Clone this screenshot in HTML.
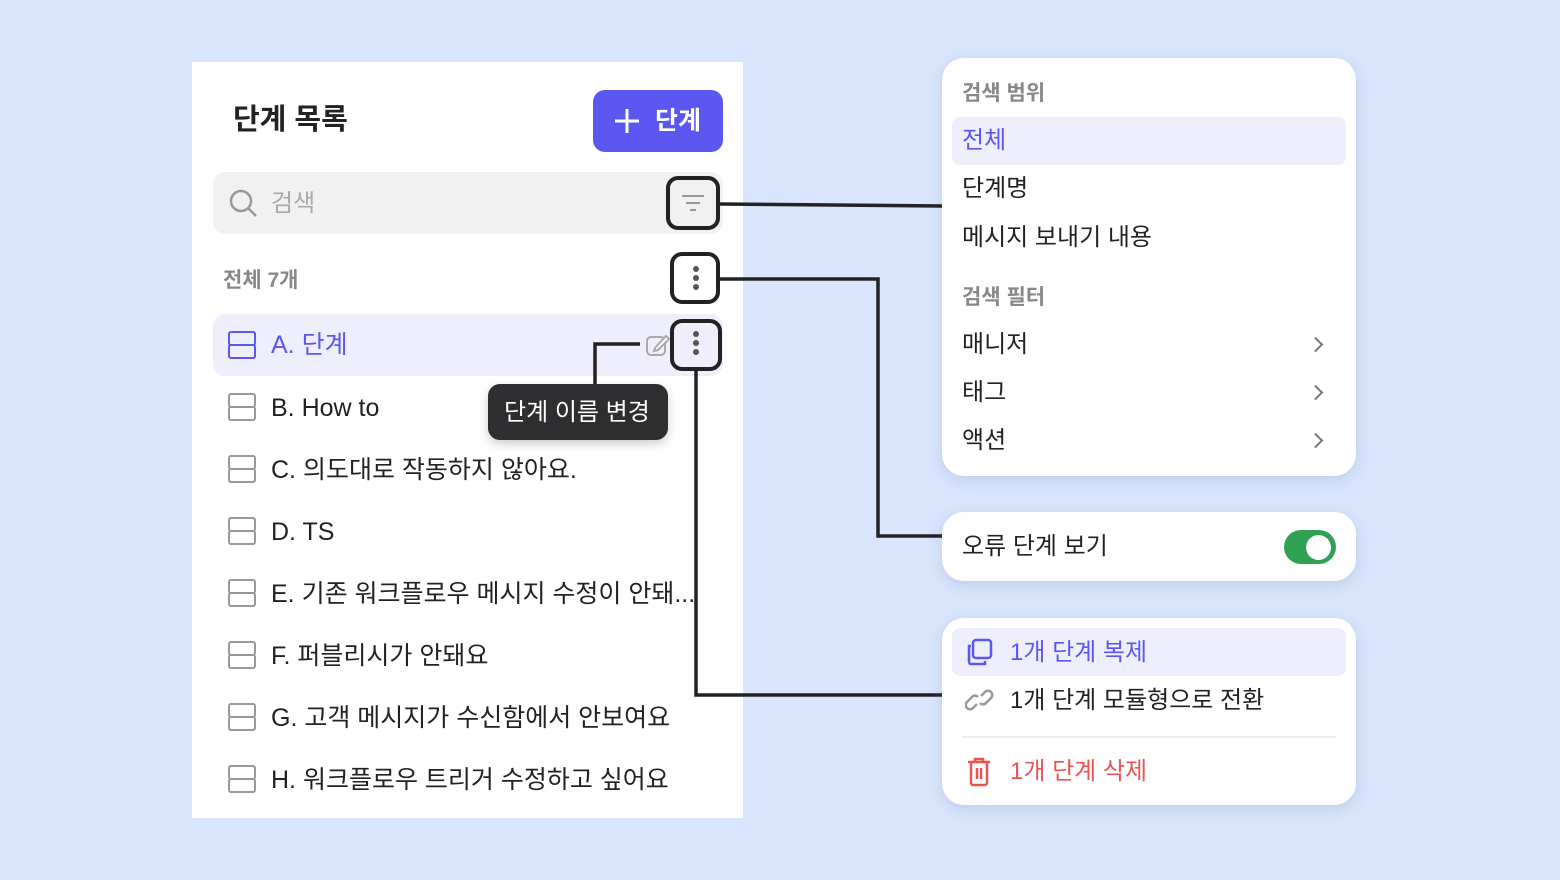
<!DOCTYPE html><html><head><meta charset="utf-8"><style>
*{margin:0;padding:0;box-sizing:border-box}
body{width:1560px;height:880px;background:#d8e5fc;position:relative;overflow:hidden;font-family:"Liberation Sans","Noto Sans CJK KR",sans-serif;color:#222}
.a{position:absolute}
.panel{background:#fff}
.card{background:#fff;border-radius:22px;box-shadow:0 4px 14px rgba(80,100,150,.18)}
.t{position:absolute;white-space:nowrap;line-height:30px}
.item{font-size:25px}
.r{font-size:24px}
.ico{position:absolute;width:26px;height:26px}
.ico:before,.ico:after{content:"";position:absolute;left:0;width:24px;height:11px;border:2.5px solid #999;border-radius:3px}
.ico:before{top:0}.ico:after{top:13px}
.ico.b:before,.ico.b:after{border-color:#5b57f0}
.box{position:absolute;border:4px solid #222;border-radius:12px}
.dots{position:absolute;width:6px}
.dots i{display:block;width:6px;height:6px;border-radius:3px;background:#555;margin-bottom:3px}
.chev{position:absolute;width:11px;height:11px;border-right:2.5px solid #777;border-top:2.5px solid #777;transform:rotate(45deg)}
</style></head><body>
<div class="a panel" style="left:192px;top:62px;width:551px;height:756px"></div>
<div class="t" style="left:233px;top:105px;font-size:29px;font-weight:bold">단계 목록</div>
<div class="a" style="left:593px;top:90px;width:130px;height:62px;background:#5b57f0;border-radius:12px"></div>
<svg class="a" style="left:613px;top:107px" width="28" height="28"><path d="M14 2V26M2 14H26" stroke="#fff" stroke-width="3"/></svg>
<div class="t" style="left:655px;top:106px;font-size:25px;color:#fff;font-weight:bold">단계</div>
<div class="a" style="left:213px;top:172px;width:510px;height:62px;background:#f1f1f1;border-radius:12px"></div>
<svg class="a" style="left:228px;top:188px" width="32" height="32"><circle cx="13" cy="13" r="10" fill="none" stroke="#999" stroke-width="2.5"/><line x1="20" y1="20" x2="28" y2="28" stroke="#999" stroke-width="2.5"/></svg>
<div class="t" style="left:271px;top:189px;font-size:24px;color:#aaa">검색</div>
<svg class="a" style="left:680px;top:192px" width="26" height="24"><line x1="2" y1="4" x2="24" y2="4" stroke="#999" stroke-width="2"/><line x1="6" y1="11" x2="20" y2="11" stroke="#999" stroke-width="2"/><line x1="10" y1="18" x2="16" y2="18" stroke="#999" stroke-width="2"/></svg>
<div class="box" style="left:666px;top:176px;width:54px;height:54px"></div>
<div class="t" style="left:223px;top:266px;font-size:21px;color:#888;font-weight:bold">전체 7개</div>
<div class="dots" style="left:693px;top:266px"><i></i><i></i><i></i></div>
<div class="box" style="left:670px;top:252px;width:50px;height:52px"></div>
<div class="a" style="left:213px;top:314px;width:510px;height:62px;background:#eeeefc;border-radius:12px"></div>
<div class="ico b" style="left:228px;top:331px"></div>
<div class="t item" style="left:271px;top:330px;color:#5b57f0">A. 단계</div>
<svg class="a" style="left:645px;top:332px" width="26" height="26"><rect x="2" y="5" width="18" height="18" rx="4" fill="none" stroke="#aaa" stroke-width="2"/><path d="M10 16 L21 4 L24 7 L13 18 L9 19Z" fill="#fff" stroke="#aaa" stroke-width="2"/></svg>
<div class="dots" style="left:693px;top:331px"><i></i><i></i><i></i></div>
<div class="box" style="left:670px;top:319px;width:52px;height:52px"></div>
<div class="a" style="left:488px;top:384px;width:180px;height:56px;background:#2e2e30;border-radius:12px;box-shadow:0 4px 10px rgba(0,0,0,.2)"></div>
<div class="t" style="left:504px;top:398px;font-size:24px;color:#fff">단계 이름 변경</div>
<div class="ico" style="left:228px;top:393px"></div><div class="t item" style="left:271px;top:393px">B. How to</div>
<div class="ico" style="left:228px;top:455px"></div><div class="t item" style="left:271px;top:455px">C. 의도대로 작동하지 않아요.</div>
<div class="ico" style="left:228px;top:517px"></div><div class="t item" style="left:271px;top:517px">D. TS</div>
<div class="ico" style="left:228px;top:579px"></div><div class="t item" style="left:271px;top:579px">E. 기존 워크플로우 메시지 수정이 안돼...</div>
<div class="ico" style="left:228px;top:641px"></div><div class="t item" style="left:271px;top:641px">F. 퍼블리시가 안돼요</div>
<div class="ico" style="left:228px;top:703px"></div><div class="t item" style="left:271px;top:703px">G. 고객 메시지가 수신함에서 안보여요</div>
<div class="ico" style="left:228px;top:765px"></div><div class="t item" style="left:271px;top:765px">H. 워크플로우 트리거 수정하고 싶어요</div>
<svg class="a" style="left:0;top:0" width="1560" height="880">
<g fill="none" stroke="#222" stroke-width="3.5">
<polyline points="720,204 942,206"/>
<polyline points="720,279 878,279 878,536 942,536"/>
<polyline points="696,371 696,695 942,695"/>
<polyline points="640,344 595,344 595,384"/>
</g></svg>
<div class="a card" style="left:942px;top:58px;width:414px;height:418px"></div>
<div class="t" style="left:962px;top:79px;font-size:21px;color:#888;font-weight:bold">검색 범위</div>
<div class="a" style="left:952px;top:117px;width:394px;height:48px;background:#eeeefc;border-radius:8px"></div>
<div class="t r" style="left:962px;top:126px;color:#5b57f0">전체</div>
<div class="t r" style="left:962px;top:174px">단계명</div>
<div class="t r" style="left:962px;top:223px">메시지 보내기 내용</div>
<div class="t" style="left:962px;top:283px;font-size:21px;color:#888;font-weight:bold">검색 필터</div>
<div class="t r" style="left:962px;top:330px">매니저</div><div class="chev" style="left:1310px;top:339px"></div>
<div class="t r" style="left:962px;top:378px">태그</div><div class="chev" style="left:1310px;top:387px"></div>
<div class="t r" style="left:962px;top:426px">액션</div><div class="chev" style="left:1310px;top:435px"></div>
<div class="a card" style="left:942px;top:512px;width:414px;height:69px"></div>
<div class="t r" style="left:962px;top:532px">오류 단계 보기</div>
<div class="a" style="left:1284px;top:530px;width:52px;height:34px;background:#2fa152;border-radius:17px"></div>
<div class="a" style="left:1306px;top:535px;width:25px;height:25px;background:#fff;border-radius:50%"></div>
<div class="a card" style="left:942px;top:618px;width:414px;height:187px"></div>
<div class="a" style="left:952px;top:628px;width:394px;height:48px;background:#eeeefc;border-radius:8px"></div>
<svg class="a" style="left:965px;top:638px" width="30" height="30"><rect x="8" y="2" width="18" height="18" rx="3" fill="none" stroke="#5b57f0" stroke-width="2.5"/><path d="M6 8 H4 V24 a2 2 0 0 0 2 2 H20 V23" fill="none" stroke="#5b57f0" stroke-width="2.5"/></svg>
<div class="t r" style="left:1010px;top:638px;color:#5b57f0">1개 단계 복제</div>
<svg class="a" style="left:965px;top:686px" width="30" height="30"><g fill="none" stroke="#999" stroke-width="2.5"><path d="M12 18 l-4 4 a4 4 0 0 1 -6 -6 l5 -5 a4 4 0 0 1 6 0"/><path d="M16 10 l4 -4 a4 4 0 0 1 6 6 l-5 5 a4 4 0 0 1 -6 0"/></g></svg>
<div class="t r" style="left:1010px;top:686px">1개 단계 모듈형으로 전환</div>
<div class="a" style="left:962px;top:736px;width:374px;height:2px;background:#eee"></div>
<svg class="a" style="left:966px;top:757px" width="28" height="30"><g fill="none" stroke="#e85555" stroke-width="2.5"><path d="M2 5 H24 M9 5 V2 H17 V5 M5 5 V26 a2 2 0 0 0 2 2 H19 a2 2 0 0 0 2 -2 V5 M11 11 V22 M15 11 V22"/></g></svg>
<div class="t r" style="left:1010px;top:757px;color:#e85555">1개 단계 삭제</div>
</body></html>
